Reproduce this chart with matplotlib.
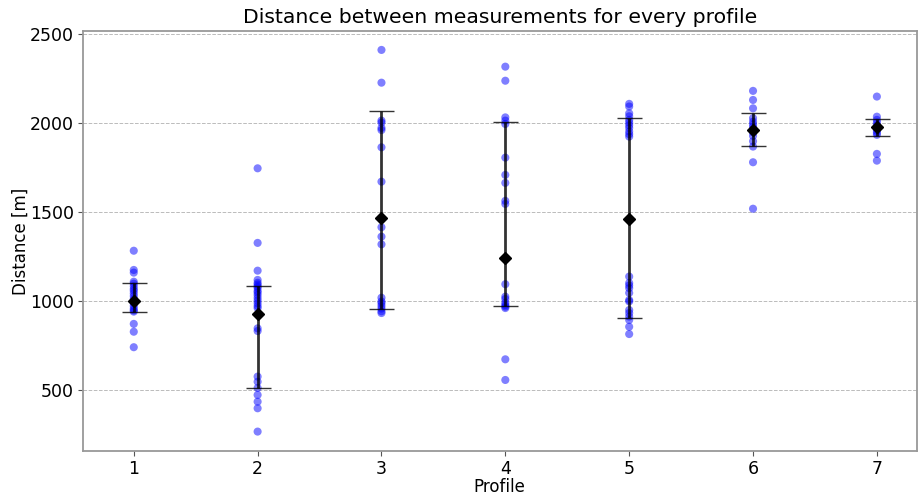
import numpy as np
import matplotlib
matplotlib.use("Agg")
import matplotlib.pyplot as plt

# distances read per profile [m]
profiles = [1, 2, 3, 4, 5, 6, 7]
distances = [
    [1285, 1177, 1162, 1111, 1100, 1085, 1070, 1060, 1045, 1030, 1015, 1000,
     990, 975, 960, 950, 943, 874, 830, 743],
    [1748, 1329, 1173, 1121, 1105, 1095, 1085, 1076, 1060, 1050, 1036, 1020,
     1005, 990, 975, 963, 849, 834, 578, 549, 514, 475, 437, 400, 269],
    [2413, 2229, 2016, 2005, 1975, 1963, 1866, 1673, 1417, 1364, 1321, 1021,
     1000, 990, 975, 960, 945, 935],
    [2319, 2240, 2034, 2016, 1997, 1808, 1711, 1666, 1565, 1548, 1097, 1027,
     1014, 992, 980, 971, 963, 675, 559],
    [2110, 2095, 2057, 2040, 2020, 2005, 1990, 1975, 1955, 1940, 1926, 1140,
     1104, 1090, 1075, 1048, 1008, 1000, 952, 935, 915, 896, 858, 817],
    [2183, 2132, 2085, 2030, 2010, 1995, 1980, 1965, 1950, 1930, 1900, 1870,
     1782, 1521],
    [2151, 2038, 2020, 2005, 1990, 1975, 1960, 1948, 1936, 1829, 1791],
]
means = [1003, 928, 1471, 1246, 1462, 1963, 1982]
lower = [939, 516, 958, 975, 906, 1875, 1930]
upper = [1102, 1087, 2070, 2007, 2029, 2059, 2024]

fig = plt.figure(figsize=(9.19, 4.95), dpi=100)
ax = fig.add_axes([0.0903, 0.0889, 0.907, 0.848])

for p, d in zip(profiles, distances):
    ax.scatter(np.full(len(d), p), d, color="blue", alpha=0.5, s=34,
               edgecolors="none", zorder=2)

m = np.array(means)
err = np.vstack([m - np.array(lower), np.array(upper) - m])
ax.errorbar(profiles, means, yerr=err, fmt="none", ecolor="black",
            elinewidth=2, capsize=9, capthick=1, alpha=0.8, zorder=3)
ax.plot(profiles, means, "D", color="black", markersize=6, zorder=4)

ax.set_xlim(0.59, 7.32)
ax.set_ylim(160, 2518)
ax.set_xticks(profiles)
ax.set_yticks([500, 1000, 1500, 2000, 2500])
ax.tick_params(labelsize=12.5, color="#555555", length=3.5, pad=3)
ax.grid(axis="y", linestyle="--", color="#bbbbbb", linewidth=0.7)
ax.set_axisbelow(True)
for s in ax.spines.values():
    s.set_color("#999999")
    s.set_linewidth(1.3)

ax.set_title("Distance between measurements for every profile", fontsize=14.7)
ax.set_xlabel("Profile", fontsize=12, labelpad=0)
ax.set_ylabel("Distance [m]", fontsize=12, labelpad=0)

fig.savefig("out.png", dpi=100)
